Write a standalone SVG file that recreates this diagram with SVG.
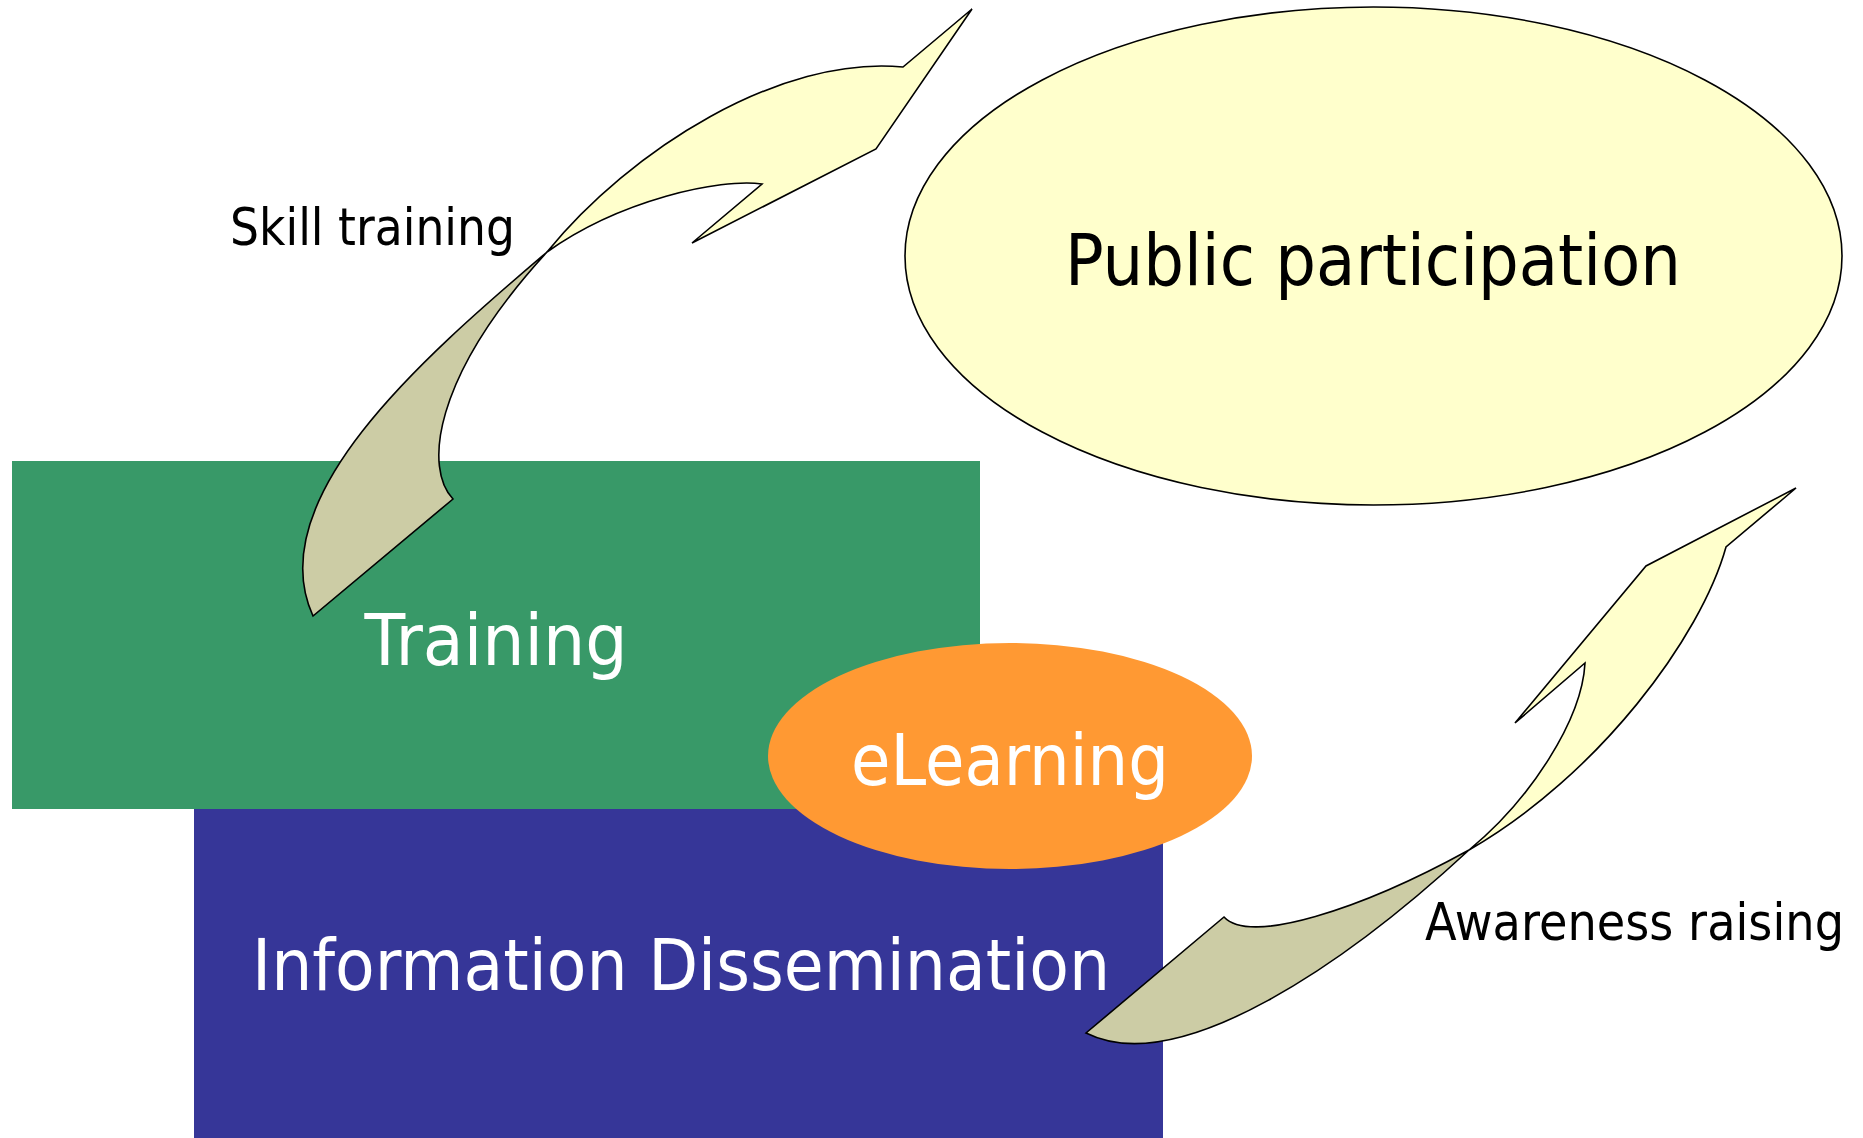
<svg xmlns="http://www.w3.org/2000/svg" width="1863" height="1138" viewBox="0 0 1863 1138">
<style>
.lbl{font-family:"DejaVu Sans","Liberation Sans",sans-serif;}
.big{font-size:72px;}
.small{font-size:52px;fill:#000;}
.w{fill:#fff;}
.k{fill:#000;}
.front{fill:#FFFFCC;stroke:#000;stroke-width:1.6;stroke-linejoin:miter;}
.back{fill:#CCCCA5;stroke:#000;stroke-width:1.6;stroke-linejoin:miter;}
</style>
<rect width="1863" height="1138" fill="#fff"/>
<g id="node-training">
<rect x="12" y="461" width="968" height="348" fill="#389968"/>
<text class="lbl big w" x="496" y="665" text-anchor="middle" textLength="263" lengthAdjust="spacingAndGlyphs">Training</text>
</g>
<g id="node-info">
<rect x="194" y="809" width="969" height="329" fill="#363698"/>
<text class="lbl big w" x="681" y="990" text-anchor="middle" textLength="858" lengthAdjust="spacingAndGlyphs">Information Dissemination</text>
</g>
<g id="node-elearning">
<ellipse cx="1010" cy="756" rx="242" ry="113" fill="#FF9933"/>
<text class="lbl big w" x="1010" y="785" text-anchor="middle" textLength="318" lengthAdjust="spacingAndGlyphs">eLearning</text>
</g>
<g id="node-public">
<ellipse cx="1373.5" cy="256" rx="468.5" ry="249" fill="#FFFFCC" stroke="#000" stroke-width="1.6"/>
<text class="lbl big k" x="1373" y="285" text-anchor="middle" textLength="616" lengthAdjust="spacingAndGlyphs">Public participation</text>
</g>
<g id="connectors">
<g id="arrow-skill">
<path class="back" d="M547,252 C420,360 260,500 313,616 L453,499 C425,470 430,380 547,252 Z"/>
<path class="front" d="M547,252 C630,150 780,55 903,67 L972,9 L876,149 L692,243 L762,184 C720,178 620,200 547,252 Z"/>
</g>
<g id="arrow-awareness">
<path class="back" d="M1469,850 C1350,960 1180,1080 1086,1033 L1224,917 C1250,945 1360,910 1469,850 Z"/>
<path class="front" d="M1469,850 C1599,775 1701,637 1726,547 L1796,488 L1646,566 L1515,723 L1585,663 C1582,720 1530,800 1469,850 Z"/>
</g>
</g>
<g id="labels">
<text class="lbl small" x="230" y="245" textLength="285" lengthAdjust="spacingAndGlyphs">Skill training</text>
<text class="lbl small" x="1425" y="940" textLength="419" lengthAdjust="spacingAndGlyphs">Awareness raising</text>
</g>
</svg>
